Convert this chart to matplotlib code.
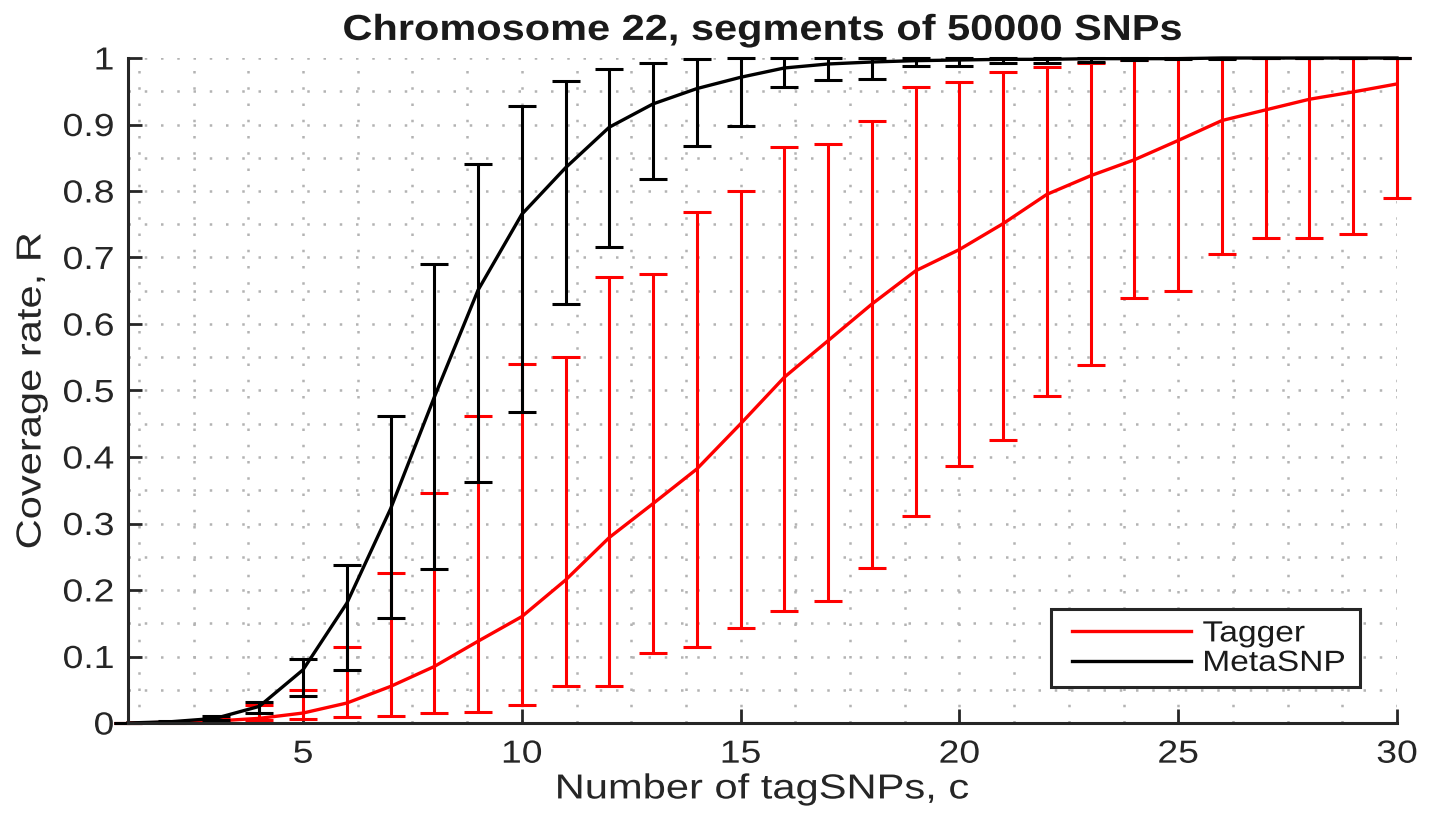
import numpy as np
import matplotlib
matplotlib.use("Agg")
import matplotlib.pyplot as plt
from matplotlib import patheffects
from matplotlib.lines import Line2D
from matplotlib.legend_handler import HandlerLine2D
from matplotlib.transforms import Affine2D
from matplotlib.ticker import MultipleLocator, FixedLocator, FuncFormatter

plt.rcParams['font.family'] = ['Liberation Sans', 'DejaVu Sans']

# number of tag SNPs
c = np.arange(1, 31)

# Tagger: mean coverage and min/max over segments
tagger_mean = [0, 0.001, 0.003, 0.007, 0.015, 0.03, 0.055, 0.085, 0.123, 0.16,
               0.215, 0.279, 0.33, 0.382, 0.45, 0.52, 0.575, 0.63, 0.68, 0.712,
               0.751, 0.795, 0.823, 0.847, 0.876, 0.906, 0.922, 0.938, 0.949, 0.961]
tagger_lo = [0, 0.0005, 0.001, 0.004, 0.006, 0.009, 0.011, 0.015, 0.016, 0.027,
             0.055, 0.056, 0.106, 0.114, 0.143, 0.168, 0.183, 0.233, 0.312, 0.386,
             0.426, 0.491, 0.539, 0.639, 0.65, 0.706, 0.729, 0.73, 0.735, 0.79]
tagger_hi = [0, 0.002, 0.006, 0.027, 0.05, 0.115, 0.226, 0.346, 0.462, 0.54,
             0.55, 0.67, 0.675, 0.768, 0.8, 0.866, 0.87, 0.905, 0.957, 0.964,
             0.979, 0.986, 0.993, 0.997, 1.0, 1.0, 1.0, 1.0, 1.0, 1.0]

# MetaSNP: mean coverage and min/max over segments
meta_mean = [0, 0.002, 0.007, 0.025, 0.08, 0.18, 0.322, 0.49, 0.651, 0.765,
             0.835, 0.896, 0.931, 0.954, 0.971, 0.985, 0.991, 0.994, 0.996, 0.997,
             0.998, 0.998, 0.999, 0.999, 0.999, 1.0, 1.0, 1.0, 1.0, 1.0]
meta_lo = [0, 0.001, 0.004, 0.015, 0.04, 0.08, 0.158, 0.232, 0.363, 0.468,
           0.63, 0.716, 0.818, 0.868, 0.898, 0.956, 0.967, 0.968, 0.988, 0.988,
           0.993, 0.992, 0.994, 0.997, 0.998, 0.999, 1.0, 1.0, 1.0, 1.0]
meta_hi = [0, 0.003, 0.011, 0.031, 0.096, 0.238, 0.462, 0.69, 0.84, 0.928,
           0.965, 0.983, 0.992, 0.998, 1.0, 1.0, 1.0, 1.0, 1.0, 1.0,
           1.0, 1.0, 1.0, 1.0, 1.0, 1.0, 1.0, 1.0, 1.0, 1.0]

axis_col = '#262626'
grid_col = '#b3b3b3'


class Widen(patheffects.AbstractPathEffect):
    """Draw text wider than the font, keeping one point of it fixed."""

    def __init__(self, sx, anchor=0.5):
        super().__init__()
        self.sx = sx
        self.anchor = anchor  # 0 = left edge, 0.5 = centre, 1 = right edge

    def draw_path(self, renderer, gc, tpath, affine, rgbFace=None):
        ext = tpath.get_extents()
        x0 = ext.x0 + self.anchor * ext.width
        t = Affine2D().translate(-x0, 0).scale(self.sx, 1).translate(x0, 0) + affine
        renderer.draw_path(gc, tpath, t, rgbFace)


fig = plt.figure(figsize=(14.33, 8.18), dpi=100)
ax = fig.add_axes([128 / 1433, 95 / 818, 1269 / 1433, 665 / 818])


def draw_series(mean, lo, hi, color, label):
    mean = np.asarray(mean)
    yerr = [mean - np.asarray(lo), np.asarray(hi) - mean]
    eb = ax.errorbar(c, mean, yerr=yerr, fmt='none', ecolor=color,
                     elinewidth=2.2, capsize=10, capthick=2.2)
    for part in eb.lines[1] + eb.lines[2]:
        part.set_clip_on(False)
    line, = ax.plot(c, mean, color=color, lw=2.4, label=label, clip_on=False)
    return line


h_tag = draw_series(tagger_mean, tagger_lo, tagger_hi, '#ff0000', 'Tagger')
h_meta = draw_series(meta_mean, meta_lo, meta_hi, '#000000', 'MetaSNP')

ax.set_xlim(1, 30)
ax.set_ylim(0, 1)

ax.xaxis.set_major_locator(FixedLocator([5, 10, 15, 20, 25, 30]))
ax.xaxis.set_minor_locator(MultipleLocator(1.25))
ax.yaxis.set_major_locator(MultipleLocator(0.1))
ax.yaxis.set_minor_locator(MultipleLocator(0.05))
ax.yaxis.set_major_formatter(FuncFormatter(lambda v, p: '%g' % round(v, 2)))

ax.tick_params(which='major', direction='in', length=10, width=2,
               color=axis_col, labelcolor=axis_col, labelsize=23)
ax.tick_params(axis='x', which='major', pad=12)
ax.tick_params(axis='y', which='major', pad=10)
ax.tick_params(which='minor', length=0)

for t in ax.get_xticklabels():
    t.set_path_effects([Widen(1.17, 0.5)])
for t in ax.get_yticklabels():
    t.set_path_effects([Widen(1.17, 1.0)])

dots = (0, (1, 5.5))
ax.grid(True, which='both', color=grid_col, linestyle=dots, linewidth=1.8)
ax.set_axisbelow(True)

for side in ['top', 'right']:
    ax.spines[side].set_visible(False)
for side in ['left', 'bottom']:
    ax.spines[side].set_color(axis_col)
    ax.spines[side].set_linewidth(2.2)

title = ax.set_title('Chromosome 22, segments of 50000 SNPs', fontsize=26,
                     fontweight='bold', color='#1a1a1a', pad=13)
title.set_path_effects([Widen(1.15)])
xl = ax.set_xlabel('Number of tagSNPs, c', fontsize=25, color=axis_col, labelpad=2)
xl.set_path_effects([Widen(1.2)])
yl = ax.set_ylabel('Coverage rate, R', fontsize=25, color=axis_col, labelpad=16)
yl.set_path_effects([Widen(1.2)])

leg = ax.legend(handles=[h_tag, h_meta], loc='lower left', mode='expand',
                bbox_to_anchor=(0.7273, 0.054, 0.2435, 0.1), borderaxespad=0,
                fontsize=21, fancybox=False, framealpha=1,
                edgecolor=axis_col, handlelength=4.45, handletextpad=0.4,
                labelspacing=0.05, borderpad=0.35,
                handler_map={Line2D: HandlerLine2D(xpad=0.38)})
leg.get_frame().set_linewidth(2.2)
for t in leg.get_texts():
    t.set_color('#1a1a1a')
    t.set_path_effects([Widen(1.15, 0.0)])

fig.savefig('out.png', dpi=100)
